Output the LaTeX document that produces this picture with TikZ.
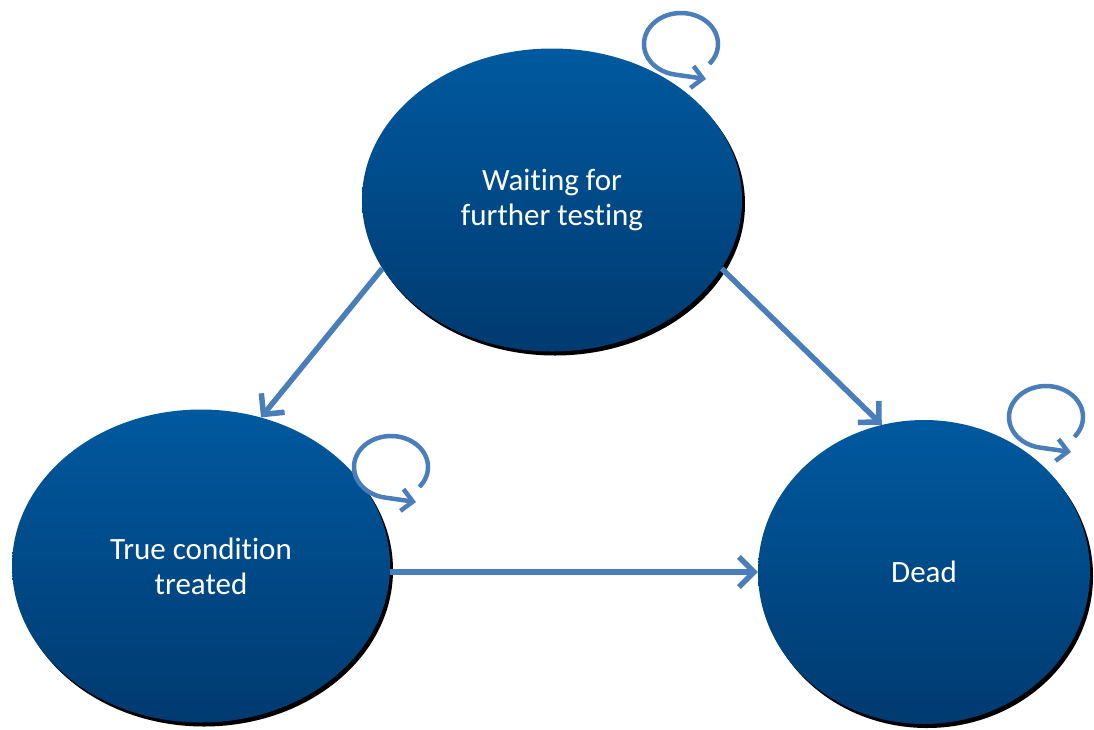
\documentclass[tikz,border=0pt]{standalone}
\usepackage{fontspec}
\setmainfont{Carlito}[Ligatures=NoCommon]
\usetikzlibrary{shapes.geometric,arrows.meta,shadows}
\definecolor{nodetop}{HTML}{00599F}
\definecolor{nodebot}{HTML}{003A70}
\definecolor{arrowblue}{HTML}{4A7EBB}
\tikzset{
  state/.style={ellipse, inner sep=0pt, text=white, align=center,
    font=\fontsize{31}{35}\selectfont,
    top color=nodetop, bottom color=nodebot, draw=none,
    drop shadow={shadow xshift=3pt, shadow yshift=-4pt, fill=black, opacity=1}},
  conn/.style={draw=arrowblue, line width=5.5pt, line join=round,
    -{Straight Barb[length=15pt, width=30pt, line width=5.5pt]}},
  selfloop/.style={draw=arrowblue, line width=4.5pt, line join=round,
    -{Straight Barb[length=11pt, width=22pt, line width=4.5pt]}},
  loopframe/.style={shift={(#1)}, x=1pt, y=1pt}
}
\begin{document}
\begin{tikzpicture}[x=1pt,y=-1pt]
\useasboundingbox (0,0) rectangle (1094,729);
\node[state, minimum width=380pt, minimum height=303pt] (wait) at (552,200) {Waiting for\\further testing};
\node[state, minimum width=378pt, minimum height=313pt] (treat) at (201,566) {True condition\\treated};
\node[state, minimum width=332pt, minimum height=304pt] (dead) at (924,572) {Dead};
\draw[conn] (wait.202) -- (treat.68);
\draw[conn] (wait.-22) -- (dead.106);
\draw[conn] (dead.west -| treat.east) -- (dead.west);
% self loops
\coordinate (c1) at (681,44);
\coordinate (c2) at (391,467);
\coordinate (c3) at (1046,417);
\foreach \c in {c1,c2,c3}{
  \begin{scope}[loopframe=\c]
    \draw[selfloop] (-40:37 and 31) arc[start angle=-40, end angle=262, x radius=37, y radius=31] -- (25,-35);
  \end{scope}
}
\end{tikzpicture}
\end{document}
